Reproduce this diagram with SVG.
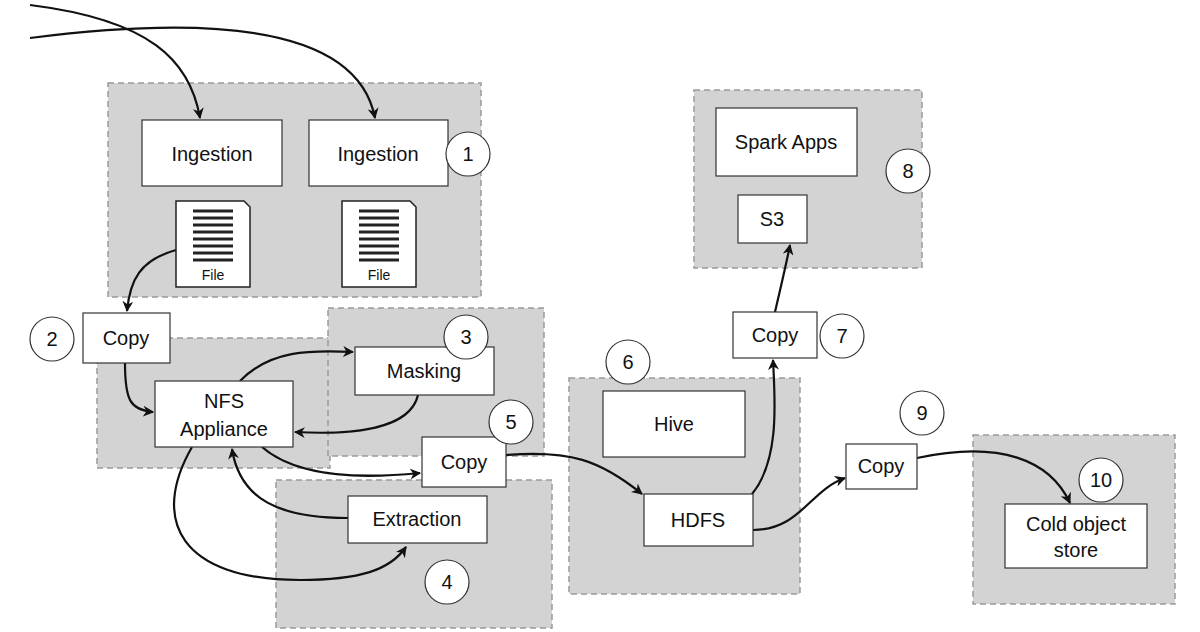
<svg xmlns="http://www.w3.org/2000/svg" width="1200" height="632" viewBox="0 0 1200 632">
<style>
.g{fill:#d3d3d3;stroke:#9a9a9a;stroke-width:1.5;stroke-dasharray:6,4}
.n{fill:#fff;stroke:#333;stroke-width:1.2}
.c{fill:#fff;stroke:#333;stroke-width:1.2}
text{font-family:"Liberation Sans",Arial,sans-serif;font-size:20px;fill:#111;text-anchor:middle;dominant-baseline:central}
.e path{fill:none;stroke:#111;stroke-width:2.2;marker-end:url(#a)}
.fl{stroke:#222;stroke-width:3}
</style>
<defs>
<marker id="a" viewBox="0 0 10 10" refX="9" refY="5" markerWidth="5" markerHeight="5" orient="auto"><path d="M0,0 L10,5 L0,10 L3,5 z" fill="#111"/></marker>
<g id="doc"><path d="M0,0 H68 L74,6 V86 H0 Z" fill="#fff" stroke="#222" stroke-width="1.5"/><path class="fl" d="M17,10H57M17,17H57M17,24H57M17,31H57M17,38H57M17,45H57M17,52H57M17,59H57"/><text x="37" y="74" style="font-size:14px">File</text></g>
</defs>
<rect width="1200" height="632" fill="#fff"/>
<g id="groups">
<rect class="g" x="108" y="83" width="373" height="214"/>
<rect class="g" x="694" y="90" width="228" height="178"/>
<rect class="g" x="97" y="338" width="233" height="130"/>
<rect class="g" x="328" y="308" width="216" height="148"/>
<rect class="g" x="276" y="480" width="276" height="148"/>
<rect class="g" x="569" y="378" width="231" height="216"/>
<rect class="g" x="973" y="435" width="202" height="169"/>
</g>
<g class="e" id="connectors">
<path d="M30,5 C150,20 190,60 200,118"/>
<path d="M30,38 C250,10 360,40 375,118"/>
<path d="M176,250 C140,260 130,280 127,311"/>
<path d="M125,363 C125,400 130,410 153,412"/>
<path d="M240,381 C270,350 310,350 353,352"/>
<path d="M418,395 C410,430 350,435 295,432"/>
<path d="M262,447 C300,480 370,478 420,473"/>
<path d="M348,518 C280,518 240,500 232,449"/>
<path d="M192,447 C150,520 180,580 300,580 C360,580 390,570 406,547"/>
<path d="M506,455 C570,450 600,460 642,494"/>
<path d="M752,494 C780,460 775,400 773,360"/>
<path d="M775,312 C780,290 785,270 790,245"/>
<path d="M753,530 C800,530 810,490 845,478"/>
<path d="M917,458 C1000,440 1050,460 1070,503"/>
</g>
<g id="ingestion1"><rect class="n" x="142" y="120" width="140" height="66"/><text x="212" y="154">Ingestion</text></g>
<g id="ingestion2"><rect class="n" x="309" y="120" width="139" height="66"/><text x="378" y="154">Ingestion</text></g>
<g id="c1"><circle class="c" cx="468" cy="154" r="22"/><text x="468" y="154">1</text></g>
<g id="file1"><use href="#doc" x="176" y="201"/></g>
<g id="file2"><use href="#doc" x="342" y="201"/></g>
<g id="copy2"><rect class="n" x="83" y="313" width="87" height="50"/><text x="126" y="338">Copy</text></g>
<g id="c2"><circle class="c" cx="52" cy="339" r="22"/><text x="52" y="339">2</text></g>
<g id="nfs"><rect class="n" x="155" y="381" width="138" height="66"/><text x="224" y="401">NFS</text><text x="224" y="429">Appliance</text></g>
<g id="masking"><rect class="n" x="355" y="347" width="139" height="48"/><text x="424" y="371">Masking</text></g>
<g id="c3"><circle class="c" cx="466" cy="337" r="22"/><text x="466" y="337">3</text></g>
<g id="copy5"><rect class="n" x="422" y="437" width="84" height="50"/><text x="464" y="462">Copy</text></g>
<g id="c5"><circle class="c" cx="511" cy="422" r="22"/><text x="511" y="422">5</text></g>
<g id="extraction"><rect class="n" x="348" y="496" width="139" height="47"/><text x="417" y="519">Extraction</text></g>
<g id="c4"><circle class="c" cx="447" cy="582" r="22"/><text x="447" y="582">4</text></g>
<g id="hive"><rect class="n" x="603" y="391" width="142" height="66"/><text x="674" y="424">Hive</text></g>
<g id="c6"><circle class="c" cx="628" cy="362" r="22"/><text x="628" y="362">6</text></g>
<g id="hdfs"><rect class="n" x="644" y="494" width="109" height="52"/><text x="698" y="520">HDFS</text></g>
<g id="copy7"><rect class="n" x="733" y="312" width="84" height="46"/><text x="775" y="335">Copy</text></g>
<g id="c7"><circle class="c" cx="842" cy="336" r="22"/><text x="842" y="336">7</text></g>
<g id="spark"><rect class="n" x="716" y="108" width="141" height="68"/><text x="786" y="142">Spark Apps</text></g>
<g id="s3"><rect class="n" x="738" y="195" width="69" height="48"/><text x="772" y="219">S3</text></g>
<g id="c8"><circle class="c" cx="908" cy="171" r="22"/><text x="908" y="171">8</text></g>
<g id="copy9"><rect class="n" x="846" y="444" width="71" height="45"/><text x="881" y="466">Copy</text></g>
<g id="c9"><circle class="c" cx="922" cy="413" r="22"/><text x="922" y="413">9</text></g>
<g id="cold"><rect class="n" x="1005" y="504" width="142" height="64"/><text x="1076" y="524">Cold object</text><text x="1076" y="550">store</text></g>
<g id="c10"><circle class="c" cx="1101" cy="480" r="22"/><text x="1101" y="480">10</text></g>
</svg>
